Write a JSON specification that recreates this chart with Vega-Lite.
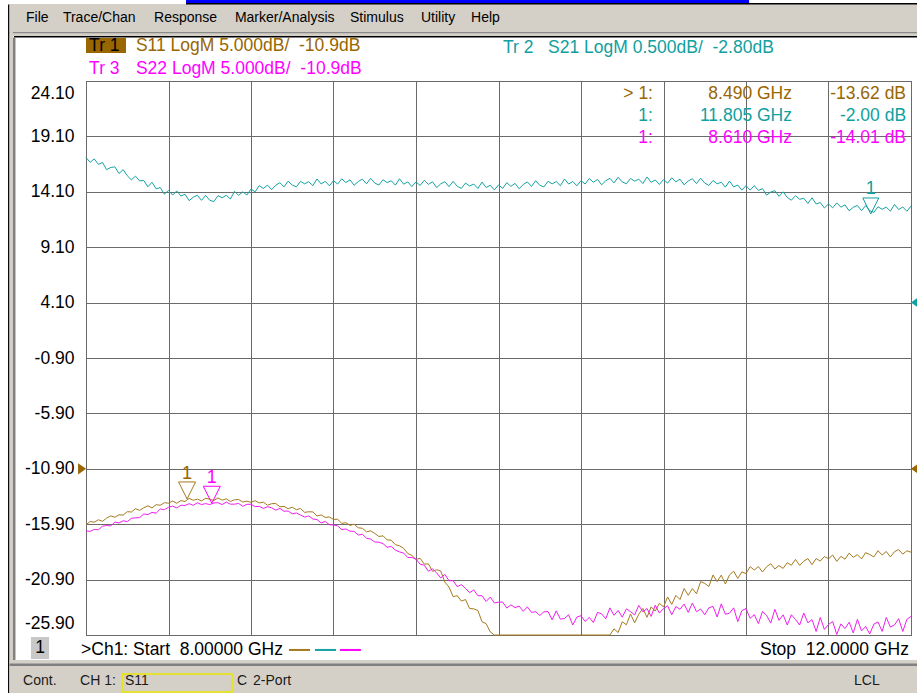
{
"$schema":"https://vega.github.io/schema/vega-lite/v6.json",
"width":825,"height":554,
"autosize":{"type":"none"},
"padding":{"left":86,"top":81,"right":6,"bottom":58},
"background":"#ffffff",
"config":{
"view":{"stroke":"#404040","strokeWidth":1},
"text":{"font":"Liberation Sans"},
"axisX":{"labels":false,"ticks":false,"domain":false,"grid":true,"gridColor":"#6a6a6a","gridWidth":1,"gridOpacity":1},
"axisLeft":{"labelFont":"Liberation Sans","labelFontSize":17.5,"labelColor":"#000000","labelPadding":12,"labelFlush":true,"labelFlushOffset":-3,"ticks":false,"domain":false,"grid":true,"gridColor":"#6a6a6a","gridWidth":1,"gridOpacity":1},
"axisRight":{"labels":false,"ticks":false,"domain":false,"grid":false}
},
"datasets":{
"trace":[
{"f":8.00,"s11":-15.96,"s21":-1.490,"s22":-16.50},
{"f":8.02,"s11":-15.66,"s21":-1.534,"s22":-16.55},
{"f":8.04,"s11":-15.72,"s21":-1.503,"s22":-16.37},
{"f":8.06,"s11":-15.50,"s21":-1.552,"s22":-16.40},
{"f":8.08,"s11":-15.64,"s21":-1.536,"s22":-16.08},
{"f":8.10,"s11":-15.35,"s21":-1.600,"s22":-16.02},
{"f":8.12,"s11":-15.15,"s21":-1.580,"s22":-16.05},
{"f":8.14,"s11":-15.27,"s21":-1.575,"s22":-15.71},
{"f":8.16,"s11":-15.05,"s21":-1.635,"s22":-15.79},
{"f":8.18,"s11":-15.08,"s21":-1.600,"s22":-15.59},
{"f":8.20,"s11":-14.77,"s21":-1.655,"s22":-15.66},
{"f":8.22,"s11":-14.80,"s21":-1.692,"s22":-15.37},
{"f":8.24,"s11":-14.50,"s21":-1.659,"s22":-15.33},
{"f":8.26,"s11":-14.66,"s21":-1.701,"s22":-15.30},
{"f":8.28,"s11":-14.42,"s21":-1.698,"s22":-14.98},
{"f":8.30,"s11":-14.24,"s21":-1.755,"s22":-15.03},
{"f":8.32,"s11":-14.43,"s21":-1.714,"s22":-14.84},
{"f":8.34,"s11":-14.14,"s21":-1.773,"s22":-14.90},
{"f":8.36,"s11":-14.19,"s21":-1.762,"s22":-14.53},
{"f":8.38,"s11":-13.96,"s21":-1.821,"s22":-14.59},
{"f":8.40,"s11":-14.00,"s21":-1.788,"s22":-14.37},
{"f":8.42,"s11":-13.81,"s21":-1.830,"s22":-14.27},
{"f":8.44,"s11":-14.01,"s21":-1.792,"s22":-14.43},
{"f":8.46,"s11":-13.77,"s21":-1.838,"s22":-14.19},
{"f":8.48,"s11":-13.85,"s21":-1.822,"s22":-14.21},
{"f":8.50,"s11":-13.57,"s21":-1.880,"s22":-14.05},
{"f":8.52,"s11":-13.74,"s21":-1.849,"s22":-14.20},
{"f":8.54,"s11":-13.64,"s21":-1.831,"s22":-13.96},
{"f":8.56,"s11":-13.80,"s21":-1.877,"s22":-14.13},
{"f":8.58,"s11":-13.56,"s21":-1.832,"s22":-14.04},
{"f":8.60,"s11":-13.64,"s21":-1.877,"s22":-14.13},
{"f":8.62,"s11":-13.76,"s21":-1.888,"s22":-13.98},
{"f":8.64,"s11":-13.53,"s21":-1.835,"s22":-13.96},
{"f":8.66,"s11":-13.73,"s21":-1.854,"s22":-14.13},
{"f":8.68,"s11":-13.61,"s21":-1.831,"s22":-13.91},
{"f":8.70,"s11":-13.85,"s21":-1.865,"s22":-14.09},
{"f":8.72,"s11":-13.70,"s21":-1.796,"s22":-14.09},
{"f":8.74,"s11":-13.67,"s21":-1.832,"s22":-14.03},
{"f":8.76,"s11":-13.90,"s21":-1.800,"s22":-14.28},
{"f":8.78,"s11":-13.82,"s21":-1.829,"s22":-14.11},
{"f":8.80,"s11":-13.93,"s21":-1.775,"s22":-14.10},
{"f":8.82,"s11":-13.78,"s21":-1.800,"s22":-14.31},
{"f":8.84,"s11":-13.98,"s21":-1.744,"s22":-14.29},
{"f":8.86,"s11":-13.91,"s21":-1.770,"s22":-14.48},
{"f":8.88,"s11":-14.19,"s21":-1.740,"s22":-14.32},
{"f":8.90,"s11":-14.05,"s21":-1.780,"s22":-14.42},
{"f":8.92,"s11":-14.03,"s21":-1.741,"s22":-14.63},
{"f":8.94,"s11":-14.33,"s21":-1.718,"s22":-14.47},
{"f":8.96,"s11":-14.29,"s21":-1.755,"s22":-14.73},
{"f":8.98,"s11":-14.50,"s21":-1.704,"s22":-14.71},
{"f":9.00,"s11":-14.37,"s21":-1.740,"s22":-14.96},
{"f":9.02,"s11":-14.59,"s21":-1.755,"s22":-14.89},
{"f":9.04,"s11":-14.48,"s21":-1.706,"s22":-15.07},
{"f":9.06,"s11":-14.83,"s21":-1.728,"s22":-15.26},
{"f":9.08,"s11":-14.78,"s21":-1.709,"s22":-15.16},
{"f":9.10,"s11":-14.79,"s21":-1.744,"s22":-15.43},
{"f":9.12,"s11":-15.16,"s21":-1.684,"s22":-15.48},
{"f":9.14,"s11":-15.06,"s21":-1.729,"s22":-15.78},
{"f":9.16,"s11":-15.29,"s21":-1.706,"s22":-15.65},
{"f":9.18,"s11":-15.25,"s21":-1.746,"s22":-15.95},
{"f":9.20,"s11":-15.47,"s21":-1.699,"s22":-15.97},
{"f":9.22,"s11":-15.45,"s21":-1.730,"s22":-16.05},
{"f":9.24,"s11":-15.83,"s21":-1.683,"s22":-16.39},
{"f":9.26,"s11":-15.76,"s21":-1.717,"s22":-16.33},
{"f":9.28,"s11":-16.01,"s21":-1.692,"s22":-16.53},
{"f":9.30,"s11":-15.90,"s21":-1.741,"s22":-16.55},
{"f":9.32,"s11":-16.22,"s21":-1.707,"s22":-16.88},
{"f":9.34,"s11":-16.27,"s21":-1.686,"s22":-16.81},
{"f":9.36,"s11":-16.59,"s21":-1.728,"s22":-17.16},
{"f":9.38,"s11":-16.50,"s21":-1.679,"s22":-17.24},
{"f":9.40,"s11":-16.73,"s21":-1.721,"s22":-17.51},
{"f":9.42,"s11":-17.01,"s21":-1.739,"s22":-17.52},
{"f":9.44,"s11":-16.95,"s21":-1.691,"s22":-17.65},
{"f":9.46,"s11":-17.31,"s21":-1.717,"s22":-17.98},
{"f":9.48,"s11":-17.35,"s21":-1.700,"s22":-17.91},
{"f":9.50,"s11":-17.75,"s21":-1.740,"s22":-18.24},
{"f":9.52,"s11":-17.85,"s21":-1.682,"s22":-18.40},
{"f":9.54,"s11":-18.07,"s21":-1.731,"s22":-18.50},
{"f":9.56,"s11":-18.55,"s21":-1.711,"s22":-18.91},
{"f":9.58,"s11":-18.72,"s21":-1.753,"s22":-18.90},
{"f":9.60,"s11":-19.08,"s21":-1.710,"s22":-19.05},
{"f":9.62,"s11":-18.98,"s21":-1.743,"s22":-19.51},
{"f":9.64,"s11":-19.50,"s21":-1.696,"s22":-19.60},
{"f":9.66,"s11":-19.48,"s21":-1.733,"s22":-20.14},
{"f":9.68,"s11":-20.15,"s21":-1.710,"s22":-19.93},
{"f":9.70,"s11":-20.01,"s21":-1.762,"s22":-20.29},
{"f":9.72,"s11":-20.13,"s21":-1.728,"s22":-20.75},
{"f":9.74,"s11":-21.13,"s21":-1.709,"s22":-20.43},
{"f":9.76,"s11":-21.57,"s21":-1.754,"s22":-21.01},
{"f":9.78,"s11":-22.44,"s21":-1.706,"s22":-20.99},
{"f":9.80,"s11":-22.35,"s21":-1.751,"s22":-21.54},
{"f":9.82,"s11":-22.84,"s21":-1.769,"s22":-21.35},
{"f":9.84,"s11":-22.70,"s21":-1.721,"s22":-21.70},
{"f":9.86,"s11":-23.51,"s21":-1.747,"s22":-22.08},
{"f":9.88,"s11":-23.54,"s21":-1.730,"s22":-21.83},
{"f":9.90,"s11":-23.69,"s21":-1.770,"s22":-22.36},
{"f":9.92,"s11":-24.70,"s21":-1.712,"s22":-22.35},
{"f":9.94,"s11":-24.88,"s21":-1.761,"s22":-22.88},
{"f":9.96,"s11":-25.62,"s21":-1.741,"s22":-22.48},
{"f":9.98,"s11":-25.90,"s21":-1.783,"s22":-23.01},
{"f":10.00,"s11":-25.90,"s21":-1.738,"s22":-22.94},
{"f":10.02,"s11":-25.90,"s21":-1.769,"s22":-22.92},
{"f":10.04,"s11":-25.90,"s21":-1.718,"s22":-23.47},
{"f":10.06,"s11":-25.90,"s21":-1.751,"s22":-23.18},
{"f":10.08,"s11":-25.90,"s21":-1.724,"s22":-23.43},
{"f":10.10,"s11":-25.90,"s21":-1.772,"s22":-23.29},
{"f":10.12,"s11":-25.90,"s21":-1.734,"s22":-23.76},
{"f":10.14,"s11":-25.90,"s21":-1.711,"s22":-23.36},
{"f":10.16,"s11":-25.90,"s21":-1.752,"s22":-23.86},
{"f":10.18,"s11":-25.90,"s21":-1.700,"s22":-23.79},
{"f":10.20,"s11":-25.90,"s21":-1.741,"s22":-24.14},
{"f":10.22,"s11":-25.90,"s21":-1.756,"s22":-23.81},
{"f":10.24,"s11":-25.90,"s21":-1.705,"s22":-23.78},
{"f":10.26,"s11":-25.90,"s21":-1.728,"s22":-24.53},
{"f":10.28,"s11":-25.90,"s21":-1.708,"s22":-23.72},
{"f":10.30,"s11":-25.90,"s21":-1.745,"s22":-24.47},
{"f":10.32,"s11":-25.90,"s21":-1.684,"s22":-24.41},
{"f":10.34,"s11":-25.90,"s21":-1.730,"s22":-24.07},
{"f":10.36,"s11":-25.90,"s21":-1.707,"s22":-25.00},
{"f":10.38,"s11":-25.90,"s21":-1.746,"s22":-24.28},
{"f":10.40,"s11":-25.90,"s21":-1.699,"s22":-24.16},
{"f":10.42,"s11":-25.90,"s21":-1.730,"s22":-24.68},
{"f":10.44,"s11":-25.90,"s21":-1.680,"s22":-24.31},
{"f":10.46,"s11":-25.90,"s21":-1.714,"s22":-24.78},
{"f":10.48,"s11":-25.90,"s21":-1.688,"s22":-23.86},
{"f":10.50,"s11":-25.90,"s21":-1.737,"s22":-23.99},
{"f":10.52,"s11":-25.90,"s21":-1.700,"s22":-24.44},
{"f":10.54,"s11":-25.90,"s21":-1.678,"s22":-23.45},
{"f":10.56,"s11":-25.34,"s21":-1.720,"s22":-24.12},
{"f":10.58,"s11":-25.68,"s21":-1.669,"s22":-23.68},
{"f":10.60,"s11":-24.70,"s21":-1.711,"s22":-24.29},
{"f":10.62,"s11":-24.98,"s21":-1.728,"s22":-23.54},
{"f":10.64,"s11":-24.00,"s21":-1.679,"s22":-23.79},
{"f":10.66,"s11":-24.80,"s21":-1.704,"s22":-24.09},
{"f":10.68,"s11":-24.03,"s21":-1.686,"s22":-23.23},
{"f":10.70,"s11":-23.50,"s21":-1.725,"s22":-23.81},
{"f":10.72,"s11":-24.30,"s21":-1.666,"s22":-23.51},
{"f":10.74,"s11":-23.36,"s21":-1.714,"s22":-24.22},
{"f":10.76,"s11":-23.74,"s21":-1.693,"s22":-23.21},
{"f":10.78,"s11":-23.04,"s21":-1.734,"s22":-23.92},
{"f":10.80,"s11":-23.36,"s21":-1.689,"s22":-23.51},
{"f":10.82,"s11":-22.47,"s21":-1.722,"s22":-23.27},
{"f":10.84,"s11":-23.14,"s21":-1.674,"s22":-24.07},
{"f":10.86,"s11":-22.32,"s21":-1.710,"s22":-23.33},
{"f":10.88,"s11":-22.70,"s21":-1.686,"s22":-23.58},
{"f":10.90,"s11":-21.70,"s21":-1.737,"s22":-23.11},
{"f":10.92,"s11":-22.32,"s21":-1.702,"s22":-23.86},
{"f":10.94,"s11":-21.71,"s21":-1.682,"s22":-23.01},
{"f":10.96,"s11":-22.18,"s21":-1.726,"s22":-23.80},
{"f":10.98,"s11":-21.08,"s21":-1.677,"s22":-23.55},
{"f":11.00,"s11":-21.24,"s21":-1.721,"s22":-24.08},
{"f":11.02,"s11":-21.52,"s21":-1.743,"s22":-23.44},
{"f":11.04,"s11":-20.48,"s21":-1.698,"s22":-23.32},
{"f":11.06,"s11":-21.08,"s21":-1.728,"s22":-24.27},
{"f":11.08,"s11":-20.50,"s21":-1.714,"s22":-23.09},
{"f":11.10,"s11":-21.30,"s21":-1.758,"s22":-24.03},
{"f":11.12,"s11":-20.48,"s21":-1.703,"s22":-23.93},
{"f":11.14,"s11":-20.14,"s21":-1.756,"s22":-23.45},
{"f":11.16,"s11":-20.79,"s21":-1.739,"s22":-24.70},
{"f":11.18,"s11":-20.21,"s21":-1.785,"s22":-23.70},
{"f":11.20,"s11":-20.35,"s21":-1.744,"s22":-23.52},
{"f":11.22,"s11":-19.73,"s21":-1.785,"s22":-24.40},
{"f":11.24,"s11":-20.04,"s21":-1.744,"s22":-24.06},
{"f":11.26,"s11":-19.72,"s21":-1.788,"s22":-24.87},
{"f":11.28,"s11":-20.21,"s21":-1.771,"s22":-23.78},
{"f":11.30,"s11":-19.74,"s21":-1.830,"s22":-24.13},
{"f":11.32,"s11":-19.47,"s21":-1.802,"s22":-24.83},
{"f":11.34,"s11":-19.94,"s21":-1.790,"s22":-23.58},
{"f":11.36,"s11":-19.63,"s21":-1.841,"s22":-24.58},
{"f":11.38,"s11":-19.89,"s21":-1.800,"s22":-24.08},
{"f":11.40,"s11":-19.37,"s21":-1.851,"s22":-25.00},
{"f":11.42,"s11":-19.60,"s21":-1.876,"s22":-24.07},
{"f":11.44,"s11":-19.08,"s21":-1.835,"s22":-24.50},
{"f":11.46,"s11":-19.62,"s21":-1.868,"s22":-25.00},
{"f":11.48,"s11":-19.24,"s21":-1.858,"s22":-23.92},
{"f":11.50,"s11":-19.00,"s21":-1.905,"s22":-24.80},
{"f":11.52,"s11":-19.55,"s21":-1.854,"s22":-24.51},
{"f":11.54,"s11":-19.00,"s21":-1.910,"s22":-25.58},
{"f":11.56,"s11":-19.23,"s21":-1.897,"s22":-24.32},
{"f":11.58,"s11":-18.82,"s21":-1.946,"s22":-25.39},
{"f":11.60,"s11":-19.02,"s21":-1.909,"s22":-24.95},
{"f":11.62,"s11":-18.68,"s21":-1.945,"s22":-24.68},
{"f":11.64,"s11":-19.25,"s21":-1.900,"s22":-25.85},
{"f":11.66,"s11":-18.80,"s21":-1.939,"s22":-24.90},
{"f":11.68,"s11":-19.06,"s21":-1.918,"s22":-25.32},
{"f":11.70,"s11":-18.51,"s21":-1.972,"s22":-24.74},
{"f":11.72,"s11":-18.89,"s21":-1.940,"s22":-25.71},
{"f":11.74,"s11":-18.65,"s21":-1.923,"s22":-24.49},
{"f":11.76,"s11":-19.03,"s21":-1.970,"s22":-25.53},
{"f":11.78,"s11":-18.47,"s21":-1.924,"s22":-25.13},
{"f":11.80,"s11":-18.64,"s21":-1.971,"s22":-25.80},
{"f":11.82,"s11":-18.85,"s21":-1.986,"s22":-24.92},
{"f":11.84,"s11":-18.29,"s21":-1.935,"s22":-24.72},
{"f":11.86,"s11":-18.68,"s21":-1.958,"s22":-25.58},
{"f":11.88,"s11":-18.36,"s21":-1.938,"s22":-24.32},
{"f":11.90,"s11":-18.85,"s21":-1.975,"s22":-25.18},
{"f":11.92,"s11":-18.38,"s21":-1.914,"s22":-24.99},
{"f":11.94,"s11":-18.19,"s21":-1.960,"s22":-24.42},
{"f":11.96,"s11":-18.60,"s21":-1.937,"s22":-25.58},
{"f":11.98,"s11":-18.30,"s21":-1.976,"s22":-24.49},
{"f":12.00,"s11":-18.43,"s21":-1.929,"s22":-24.22}
],
"markers":[
{"trace":"S11","f":8.49,"v":-13.62},
{"trace":"S22","f":8.61,"v":-14.01},
{"trace":"S21","f":11.805,"v":-2.00}
]
},
"resolve":{"scale":{"y":"independent"}},
"layer":[
{"layer":[
{"data":{"name":"trace"},"mark":{"type":"line","color":"#a57a1e","strokeWidth":1},"encoding":{"x":{"field":"f","type":"quantitative","scale":{"domain":[8,12],"nice":false,"zero":false},"axis":{"title":null,"values":[8,8.4,8.8,9.2,9.6,10,10.4,10.8,11.2,11.6,12]}},"y":{"field":"s11","type":"quantitative","scale":{"domain":[-25.9,24.1],"nice":false,"zero":false},"axis":{"title":null,"values":[-25.9,-20.9,-15.9,-10.9,-5.9,-0.9,4.1,9.1,14.1,19.1,24.1],"labelExpr":"replace(format(datum.value,'.2f'),'\u2212','-')"}}}},
{"data":{"values":[{}]},"mark":{"type":"rect","fill":"#d4d0c8"},"encoding":{"x":{"datum":7.629,"type":"quantitative","scale":{"domain":[8,12],"nice":false,"zero":false},"axis":{"title":null}},"x2":{"datum":12.03},"y":{"datum":31.05,"type":"quantitative","scale":{"domain":[-25.9,24.1],"nice":false,"zero":false},"axis":{"title":null}},"y2":{"datum":28.16}}},
{"data":{"values":[{}]},"mark":{"type":"rect","fill":"#8a8a8a"},"encoding":{"x":{"datum":7.629,"type":"quantitative","scale":{"domain":[8,12],"nice":false,"zero":false},"axis":{"title":null}},"x2":{"datum":12.03},"y":{"datum":28.52,"type":"quantitative","scale":{"domain":[-25.9,24.1],"nice":false,"zero":false},"axis":{"title":null}},"y2":{"datum":28.41}}},
{"data":{"values":[{}]},"mark":{"type":"rect","fill":"#000000"},"encoding":{"x":{"datum":7.651,"type":"quantitative","scale":{"domain":[8,12],"nice":false,"zero":false},"axis":{"title":null}},"x2":{"datum":12.03},"y":{"datum":28.16,"type":"quantitative","scale":{"domain":[-25.9,24.1],"nice":false,"zero":false},"axis":{"title":null}},"y2":{"datum":28.03}}},
{"data":{"values":[{}]},"mark":{"type":"rect","fill":"#0000ff"},"encoding":{"x":{"datum":8.485,"type":"quantitative","scale":{"domain":[8,12],"nice":false,"zero":false},"axis":{"title":null}},"x2":{"datum":11.215},"y":{"datum":31.45,"type":"quantitative","scale":{"domain":[-25.9,24.1],"nice":false,"zero":false},"axis":{"title":null}},"y2":{"datum":31.14}}},
{"data":{"values":[{}]},"mark":{"type":"rect","fill":"#000000"},"encoding":{"x":{"datum":8.485,"type":"quantitative","scale":{"domain":[8,12],"nice":false,"zero":false},"axis":{"title":null}},"x2":{"datum":12.03},"y":{"datum":31.14,"type":"quantitative","scale":{"domain":[-25.9,24.1],"nice":false,"zero":false},"axis":{"title":null}},"y2":{"datum":31.0}}},
{"data":{"values":[{}]},"mark":{"type":"rect","fill":"#000000"},"encoding":{"x":{"datum":7.622,"type":"quantitative","scale":{"domain":[8,12],"nice":false,"zero":false},"axis":{"title":null}},"x2":{"datum":7.629},"y":{"datum":31.0,"type":"quantitative","scale":{"domain":[-25.9,24.1],"nice":false,"zero":false},"axis":{"title":null}},"y2":{"datum":-31.2}}},
{"data":{"values":[{}]},"mark":{"type":"rect","fill":"#d4d0c8"},"encoding":{"x":{"datum":7.629,"type":"quantitative","scale":{"domain":[8,12],"nice":false,"zero":false},"axis":{"title":null}},"x2":{"datum":7.646},"y":{"datum":31.0,"type":"quantitative","scale":{"domain":[-25.9,24.1],"nice":false,"zero":false},"axis":{"title":null}},"y2":{"datum":-31.2}}},
{"data":{"values":[{}]},"mark":{"type":"rect","fill":"#808080"},"encoding":{"x":{"datum":7.646,"type":"quantitative","scale":{"domain":[8,12],"nice":false,"zero":false},"axis":{"title":null}},"x2":{"datum":7.658},"y":{"datum":28.03,"type":"quantitative","scale":{"domain":[-25.9,24.1],"nice":false,"zero":false},"axis":{"title":null}},"y2":{"datum":-28.16}}},
{"data":{"values":[{}]},"mark":{"type":"rect","fill":"#d4d0c8"},"encoding":{"x":{"datum":7.629,"type":"quantitative","scale":{"domain":[8,12],"nice":false,"zero":false},"axis":{"title":null}},"x2":{"datum":12.03},"y":{"datum":-28.16,"type":"quantitative","scale":{"domain":[-25.9,24.1],"nice":false,"zero":false},"axis":{"title":null}},"y2":{"datum":-31.2}}},
{"data":{"values":[{}]},"mark":{"type":"rect","fill":"#808080"},"encoding":{"x":{"datum":7.629,"type":"quantitative","scale":{"domain":[8,12],"nice":false,"zero":false},"axis":{"title":null}},"x2":{"datum":12.03},"y":{"datum":-28.47,"type":"quantitative","scale":{"domain":[-25.9,24.1],"nice":false,"zero":false},"axis":{"title":null}},"y2":{"datum":-28.70}}},
{"data":{"values":[{}]},"mark":{"type":"rect","fillOpacity":0,"stroke":"#e8e800","strokeWidth":1.5},"encoding":{"x":{"datum":8.175,"type":"quantitative","scale":{"domain":[8,12],"nice":false,"zero":false},"axis":{"title":null}},"x2":{"datum":8.708},"y":{"datum":-29.42,"type":"quantitative","scale":{"domain":[-25.9,24.1],"nice":false,"zero":false},"axis":{"title":null}},"y2":{"datum":-31.04}}},
{"data":{"values":[{}]},"mark":{"type":"rect","fill":"#c8c8c8"},"encoding":{"x":{"datum":7.733,"type":"quantitative","scale":{"domain":[8,12],"nice":false,"zero":false},"axis":{"title":null}},"x2":{"datum":7.821},"y":{"datum":-26.08,"type":"quantitative","scale":{"domain":[-25.9,24.1],"nice":false,"zero":false},"axis":{"title":null}},"y2":{"datum":-28.07}}},
{"data":{"values":[{}]},"mark":{"type":"rect","fill":"#996600"},"encoding":{"x":{"datum":8.0,"type":"quantitative","scale":{"domain":[8,12],"nice":false,"zero":false},"axis":{"title":null}},"x2":{"datum":8.194},"y":{"datum":27.98,"type":"quantitative","scale":{"domain":[-25.9,24.1],"nice":false,"zero":false},"axis":{"title":null}},"y2":{"datum":26.63}}},
{"data":{"values":[{}]},"mark":{"type":"text","text":"File","align":"left","baseline":"middle","fontSize":14,"color":"#000000"},"encoding":{"x":{"datum":7.709,"type":"quantitative","scale":{"domain":[8,12],"nice":false,"zero":false},"axis":{"title":null}},"y":{"datum":29.83,"type":"quantitative","scale":{"domain":[-25.9,24.1],"nice":false,"zero":false},"axis":{"title":null}}}},
{"data":{"values":[{}]},"mark":{"type":"text","text":"Trace/Chan","align":"left","baseline":"middle","fontSize":14,"color":"#000000"},"encoding":{"x":{"datum":7.888,"type":"quantitative","scale":{"domain":[8,12],"nice":false,"zero":false},"axis":{"title":null}},"y":{"datum":29.83,"type":"quantitative","scale":{"domain":[-25.9,24.1],"nice":false,"zero":false},"axis":{"title":null}}}},
{"data":{"values":[{}]},"mark":{"type":"text","text":"Response","align":"left","baseline":"middle","fontSize":14,"color":"#000000"},"encoding":{"x":{"datum":8.330,"type":"quantitative","scale":{"domain":[8,12],"nice":false,"zero":false},"axis":{"title":null}},"y":{"datum":29.83,"type":"quantitative","scale":{"domain":[-25.9,24.1],"nice":false,"zero":false},"axis":{"title":null}}}},
{"data":{"values":[{}]},"mark":{"type":"text","text":"Marker/Analysis","align":"left","baseline":"middle","fontSize":14,"color":"#000000"},"encoding":{"x":{"datum":8.722,"type":"quantitative","scale":{"domain":[8,12],"nice":false,"zero":false},"axis":{"title":null}},"y":{"datum":29.83,"type":"quantitative","scale":{"domain":[-25.9,24.1],"nice":false,"zero":false},"axis":{"title":null}}}},
{"data":{"values":[{}]},"mark":{"type":"text","text":"Stimulus","align":"left","baseline":"middle","fontSize":14,"color":"#000000"},"encoding":{"x":{"datum":9.280,"type":"quantitative","scale":{"domain":[8,12],"nice":false,"zero":false},"axis":{"title":null}},"y":{"datum":29.83,"type":"quantitative","scale":{"domain":[-25.9,24.1],"nice":false,"zero":false},"axis":{"title":null}}}},
{"data":{"values":[{}]},"mark":{"type":"text","text":"Utility","align":"left","baseline":"middle","fontSize":14,"color":"#000000"},"encoding":{"x":{"datum":9.624,"type":"quantitative","scale":{"domain":[8,12],"nice":false,"zero":false},"axis":{"title":null}},"y":{"datum":29.83,"type":"quantitative","scale":{"domain":[-25.9,24.1],"nice":false,"zero":false},"axis":{"title":null}}}},
{"data":{"values":[{}]},"mark":{"type":"text","text":"Help","align":"left","baseline":"middle","fontSize":14,"color":"#000000"},"encoding":{"x":{"datum":9.867,"type":"quantitative","scale":{"domain":[8,12],"nice":false,"zero":false},"axis":{"title":null}},"y":{"datum":29.83,"type":"quantitative","scale":{"domain":[-25.9,24.1],"nice":false,"zero":false},"axis":{"title":null}}}},
{"data":{"values":[{}]},"mark":{"type":"text","text":"Tr 1","align":"left","baseline":"middle","fontSize":17.5,"color":"#000000"},"encoding":{"x":{"datum":8.015,"type":"quantitative","scale":{"domain":[8,12],"nice":false,"zero":false},"axis":{"title":null}},"y":{"datum":27.30,"type":"quantitative","scale":{"domain":[-25.9,24.1],"nice":false,"zero":false},"axis":{"title":null}}}},
{"data":{"values":[{}]},"mark":{"type":"text","text":"S11 LogM 5.000dB/\u00a0\u00a0-10.9dB","align":"left","baseline":"middle","fontSize":17.5,"color":"#996600"},"encoding":{"x":{"datum":8.242,"type":"quantitative","scale":{"domain":[8,12],"nice":false,"zero":false},"axis":{"title":null}},"y":{"datum":27.30,"type":"quantitative","scale":{"domain":[-25.9,24.1],"nice":false,"zero":false},"axis":{"title":null}}}},
{"data":{"values":[{}]},"mark":{"type":"text","text":"Tr 3","align":"left","baseline":"middle","fontSize":17.5,"color":"#ff00ff"},"encoding":{"x":{"datum":8.015,"type":"quantitative","scale":{"domain":[8,12],"nice":false,"zero":false},"axis":{"title":null}},"y":{"datum":25.18,"type":"quantitative","scale":{"domain":[-25.9,24.1],"nice":false,"zero":false},"axis":{"title":null}}}},
{"data":{"values":[{}]},"mark":{"type":"text","text":"S22 LogM 5.000dB/\u00a0\u00a0-10.9dB","align":"left","baseline":"middle","fontSize":17.5,"color":"#ff00ff"},"encoding":{"x":{"datum":8.242,"type":"quantitative","scale":{"domain":[8,12],"nice":false,"zero":false},"axis":{"title":null}},"y":{"datum":25.18,"type":"quantitative","scale":{"domain":[-25.9,24.1],"nice":false,"zero":false},"axis":{"title":null}}}},
{"data":{"values":[{}]},"mark":{"type":"text","text":"Tr 2\u00a0\u00a0\u00a0S21 LogM 0.500dB/\u00a0\u00a0-2.80dB","align":"left","baseline":"middle","fontSize":17.5,"color":"#10a0a0"},"encoding":{"x":{"datum":10.022,"type":"quantitative","scale":{"domain":[8,12],"nice":false,"zero":false},"axis":{"title":null}},"y":{"datum":27.08,"type":"quantitative","scale":{"domain":[-25.9,24.1],"nice":false,"zero":false},"axis":{"title":null}}}},
{"data":{"values":[{}]},"mark":{"type":"text","text":"> 1:","align":"right","baseline":"middle","fontSize":17.5,"color":"#996600"},"encoding":{"x":{"datum":10.749,"type":"quantitative","scale":{"domain":[8,12],"nice":false,"zero":false},"axis":{"title":null}},"y":{"datum":22.93,"type":"quantitative","scale":{"domain":[-25.9,24.1],"nice":false,"zero":false},"axis":{"title":null}}}},
{"data":{"values":[{}]},"mark":{"type":"text","text":"8.490 GHz","align":"right","baseline":"middle","fontSize":17.5,"color":"#996600"},"encoding":{"x":{"datum":11.423,"type":"quantitative","scale":{"domain":[8,12],"nice":false,"zero":false},"axis":{"title":null}},"y":{"datum":22.93,"type":"quantitative","scale":{"domain":[-25.9,24.1],"nice":false,"zero":false},"axis":{"title":null}}}},
{"data":{"values":[{}]},"mark":{"type":"text","text":"-13.62 dB","align":"right","baseline":"middle","fontSize":17.5,"color":"#996600"},"encoding":{"x":{"datum":11.976,"type":"quantitative","scale":{"domain":[8,12],"nice":false,"zero":false},"axis":{"title":null}},"y":{"datum":22.93,"type":"quantitative","scale":{"domain":[-25.9,24.1],"nice":false,"zero":false},"axis":{"title":null}}}},
{"data":{"values":[{}]},"mark":{"type":"text","text":"1:","align":"right","baseline":"middle","fontSize":17.5,"color":"#10a0a0"},"encoding":{"x":{"datum":10.749,"type":"quantitative","scale":{"domain":[8,12],"nice":false,"zero":false},"axis":{"title":null}},"y":{"datum":20.94,"type":"quantitative","scale":{"domain":[-25.9,24.1],"nice":false,"zero":false},"axis":{"title":null}}}},
{"data":{"values":[{}]},"mark":{"type":"text","text":"11.805 GHz","align":"right","baseline":"middle","fontSize":17.5,"color":"#10a0a0"},"encoding":{"x":{"datum":11.423,"type":"quantitative","scale":{"domain":[8,12],"nice":false,"zero":false},"axis":{"title":null}},"y":{"datum":20.94,"type":"quantitative","scale":{"domain":[-25.9,24.1],"nice":false,"zero":false},"axis":{"title":null}}}},
{"data":{"values":[{}]},"mark":{"type":"text","text":"-2.00 dB","align":"right","baseline":"middle","fontSize":17.5,"color":"#10a0a0"},"encoding":{"x":{"datum":11.976,"type":"quantitative","scale":{"domain":[8,12],"nice":false,"zero":false},"axis":{"title":null}},"y":{"datum":20.94,"type":"quantitative","scale":{"domain":[-25.9,24.1],"nice":false,"zero":false},"axis":{"title":null}}}},
{"data":{"values":[{}]},"mark":{"type":"text","text":"1:","align":"right","baseline":"middle","fontSize":17.5,"color":"#ff00ff"},"encoding":{"x":{"datum":10.749,"type":"quantitative","scale":{"domain":[8,12],"nice":false,"zero":false},"axis":{"title":null}},"y":{"datum":18.96,"type":"quantitative","scale":{"domain":[-25.9,24.1],"nice":false,"zero":false},"axis":{"title":null}}}},
{"data":{"values":[{}]},"mark":{"type":"text","text":"8.610 GHz","align":"right","baseline":"middle","fontSize":17.5,"color":"#ff00ff"},"encoding":{"x":{"datum":11.423,"type":"quantitative","scale":{"domain":[8,12],"nice":false,"zero":false},"axis":{"title":null}},"y":{"datum":18.96,"type":"quantitative","scale":{"domain":[-25.9,24.1],"nice":false,"zero":false},"axis":{"title":null}}}},
{"data":{"values":[{}]},"mark":{"type":"text","text":"-14.01 dB","align":"right","baseline":"middle","fontSize":17.5,"color":"#ff00ff"},"encoding":{"x":{"datum":11.976,"type":"quantitative","scale":{"domain":[8,12],"nice":false,"zero":false},"axis":{"title":null}},"y":{"datum":18.96,"type":"quantitative","scale":{"domain":[-25.9,24.1],"nice":false,"zero":false},"axis":{"title":null}}}},
{"data":{"values":[{}]},"mark":{"type":"text","text":"1","align":"center","baseline":"middle","fontSize":17.5,"color":"#000000"},"encoding":{"x":{"datum":7.777,"type":"quantitative","scale":{"domain":[8,12],"nice":false,"zero":false},"axis":{"title":null}},"y":{"datum":-27.07,"type":"quantitative","scale":{"domain":[-25.9,24.1],"nice":false,"zero":false},"axis":{"title":null}}}},
{"data":{"values":[{}]},"mark":{"type":"text","text":">Ch1: Start\u00a0\u00a08.00000 GHz","align":"left","baseline":"middle","fontSize":17.5,"color":"#000000"},"encoding":{"x":{"datum":7.976,"type":"quantitative","scale":{"domain":[8,12],"nice":false,"zero":false},"axis":{"title":null}},"y":{"datum":-27.25,"type":"quantitative","scale":{"domain":[-25.9,24.1],"nice":false,"zero":false},"axis":{"title":null}}}},
{"data":{"values":[{}]},"mark":{"type":"text","text":"Stop\u00a0\u00a012.0000 GHz","align":"right","baseline":"middle","fontSize":17.5,"color":"#000000"},"encoding":{"x":{"datum":11.990,"type":"quantitative","scale":{"domain":[8,12],"nice":false,"zero":false},"axis":{"title":null}},"y":{"datum":-27.25,"type":"quantitative","scale":{"domain":[-25.9,24.1],"nice":false,"zero":false},"axis":{"title":null}}}},
{"data":{"values":[{}]},"mark":{"type":"rule","color":"#a57a1e","strokeWidth":2},"encoding":{"x":{"datum":8.984,"type":"quantitative","scale":{"domain":[8,12],"nice":false,"zero":false},"axis":{"title":null}},"x2":{"datum":9.086},"y":{"datum":-27.25,"type":"quantitative","scale":{"domain":[-25.9,24.1],"nice":false,"zero":false},"axis":{"title":null}}}},
{"data":{"values":[{}]},"mark":{"type":"rule","color":"#16a2a2","strokeWidth":2},"encoding":{"x":{"datum":9.110,"type":"quantitative","scale":{"domain":[8,12],"nice":false,"zero":false},"axis":{"title":null}},"x2":{"datum":9.212},"y":{"datum":-27.25,"type":"quantitative","scale":{"domain":[-25.9,24.1],"nice":false,"zero":false},"axis":{"title":null}}}},
{"data":{"values":[{}]},"mark":{"type":"rule","color":"#ff00ff","strokeWidth":2},"encoding":{"x":{"datum":9.232,"type":"quantitative","scale":{"domain":[8,12],"nice":false,"zero":false},"axis":{"title":null}},"x2":{"datum":9.333},"y":{"datum":-27.25,"type":"quantitative","scale":{"domain":[-25.9,24.1],"nice":false,"zero":false},"axis":{"title":null}}}},
{"data":{"values":[{}]},"mark":{"type":"text","text":"Cont.","align":"left","baseline":"middle","fontSize":14,"color":"#1a1a1a"},"encoding":{"x":{"datum":7.695,"type":"quantitative","scale":{"domain":[8,12],"nice":false,"zero":false},"axis":{"title":null}},"y":{"datum":-30.01,"type":"quantitative","scale":{"domain":[-25.9,24.1],"nice":false,"zero":false},"axis":{"title":null}}}},
{"data":{"values":[{}]},"mark":{"type":"text","text":"CH 1:","align":"left","baseline":"middle","fontSize":14,"color":"#1a1a1a"},"encoding":{"x":{"datum":7.971,"type":"quantitative","scale":{"domain":[8,12],"nice":false,"zero":false},"axis":{"title":null}},"y":{"datum":-30.01,"type":"quantitative","scale":{"domain":[-25.9,24.1],"nice":false,"zero":false},"axis":{"title":null}}}},
{"data":{"values":[{}]},"mark":{"type":"text","text":"S11","align":"left","baseline":"middle","fontSize":14,"color":"#1a1a1a"},"encoding":{"x":{"datum":8.189,"type":"quantitative","scale":{"domain":[8,12],"nice":false,"zero":false},"axis":{"title":null}},"y":{"datum":-30.01,"type":"quantitative","scale":{"domain":[-25.9,24.1],"nice":false,"zero":false},"axis":{"title":null}}}},
{"data":{"values":[{}]},"mark":{"type":"text","text":"C","align":"left","baseline":"middle","fontSize":14,"color":"#1a1a1a"},"encoding":{"x":{"datum":8.732,"type":"quantitative","scale":{"domain":[8,12],"nice":false,"zero":false},"axis":{"title":null}},"y":{"datum":-30.01,"type":"quantitative","scale":{"domain":[-25.9,24.1],"nice":false,"zero":false},"axis":{"title":null}}}},
{"data":{"values":[{}]},"mark":{"type":"text","text":"2-Port","align":"left","baseline":"middle","fontSize":14,"color":"#1a1a1a"},"encoding":{"x":{"datum":8.810,"type":"quantitative","scale":{"domain":[8,12],"nice":false,"zero":false},"axis":{"title":null}},"y":{"datum":-30.01,"type":"quantitative","scale":{"domain":[-25.9,24.1],"nice":false,"zero":false},"axis":{"title":null}}}},
{"data":{"values":[{}]},"mark":{"type":"text","text":"LCL","align":"left","baseline":"middle","fontSize":14,"color":"#1a1a1a"},"encoding":{"x":{"datum":11.724,"type":"quantitative","scale":{"domain":[8,12],"nice":false,"zero":false},"axis":{"title":null}},"y":{"datum":-30.01,"type":"quantitative","scale":{"domain":[-25.9,24.1],"nice":false,"zero":false},"axis":{"title":null}}}},
{"data":{"values":[{}]},"mark":{"type":"point","shape":"M-1,-1.4L1,0L-1,1.4Z","size":64,"filled":true,"color":"#996600","opacity":1},"encoding":{"x":{"datum":7.981,"type":"quantitative","scale":{"domain":[8,12],"nice":false,"zero":false},"axis":{"title":null}},"y":{"datum":-10.9,"type":"quantitative","scale":{"domain":[-25.9,24.1],"nice":false,"zero":false},"axis":{"title":null}}}},
{"data":{"values":[{}]},"mark":{"type":"point","shape":"M1,-1.4L-1,0L1,1.4Z","size":64,"filled":true,"color":"#996600","opacity":1},"encoding":{"x":{"datum":12.019,"type":"quantitative","scale":{"domain":[8,12],"nice":false,"zero":false},"axis":{"title":null}},"y":{"datum":-10.9,"type":"quantitative","scale":{"domain":[-25.9,24.1],"nice":false,"zero":false},"axis":{"title":null}}}},
{"data":{"name":"trace"},"mark":{"type":"line","color":"#f01ef0","strokeWidth":1},"encoding":{"x":{"field":"f","type":"quantitative","scale":{"domain":[8,12],"nice":false,"zero":false},"axis":{"title":null}},"y":{"field":"s22","type":"quantitative","scale":{"domain":[-25.9,24.1],"nice":false,"zero":false},"axis":{"title":null}}}},
{"data":{"name":"markers"},"transform":[{"filter":"datum.trace === 'S11'"}],"mark":{"type":"point","shape":"M-1,-2L1,-2L0,0Z","size":289,"filled":false,"stroke":"#a57a1e","strokeWidth":1,"opacity":1},"encoding":{"x":{"field":"f","type":"quantitative","scale":{"domain":[8,12],"nice":false,"zero":false},"axis":{"title":null}},"y":{"field":"v","type":"quantitative","scale":{"domain":[-25.9,24.1],"nice":false,"zero":false},"axis":{"title":null}}}},
{"data":{"name":"markers"},"transform":[{"filter":"datum.trace === 'S11'"}],"mark":{"type":"text","text":"1","dy":-25,"align":"center","baseline":"middle","fontSize":18,"color":"#996600"},"encoding":{"x":{"field":"f","type":"quantitative","scale":{"domain":[8,12],"nice":false,"zero":false},"axis":{"title":null}},"y":{"field":"v","type":"quantitative","scale":{"domain":[-25.9,24.1],"nice":false,"zero":false},"axis":{"title":null}}}},
{"data":{"name":"markers"},"transform":[{"filter":"datum.trace === 'S22'"}],"mark":{"type":"point","shape":"M-1,-2L1,-2L0,0Z","size":289,"filled":false,"stroke":"#ff00ff","strokeWidth":1,"opacity":1},"encoding":{"x":{"field":"f","type":"quantitative","scale":{"domain":[8,12],"nice":false,"zero":false},"axis":{"title":null}},"y":{"field":"v","type":"quantitative","scale":{"domain":[-25.9,24.1],"nice":false,"zero":false},"axis":{"title":null}}}},
{"data":{"name":"markers"},"transform":[{"filter":"datum.trace === 'S22'"}],"mark":{"type":"text","text":"1","dy":-25,"align":"center","baseline":"middle","fontSize":18,"color":"#ff00ff"},"encoding":{"x":{"field":"f","type":"quantitative","scale":{"domain":[8,12],"nice":false,"zero":false},"axis":{"title":null}},"y":{"field":"v","type":"quantitative","scale":{"domain":[-25.9,24.1],"nice":false,"zero":false},"axis":{"title":null}}}}
]},
{"layer":[
{"data":{"name":"trace"},"mark":{"type":"line","color":"#16a2a2","strokeWidth":1},"encoding":{"x":{"field":"f","type":"quantitative","scale":{"domain":[8,12],"nice":false,"zero":false},"axis":{"title":null}},"y":{"field":"s21","type":"quantitative","scale":{"domain":[-5.8,-0.8],"nice":false,"zero":false},"axis":{"title":null}}}},
{"data":{"name":"markers"},"transform":[{"filter":"datum.trace === 'S21'"}],"mark":{"type":"point","shape":"M-1,-2L1,-2L0,0Z","size":256,"filled":false,"stroke":"#10a0a0","strokeWidth":1,"opacity":1},"encoding":{"x":{"field":"f","type":"quantitative","scale":{"domain":[8,12],"nice":false,"zero":false},"axis":{"title":null}},"y":{"field":"v","type":"quantitative","scale":{"domain":[-5.8,-0.8],"nice":false,"zero":false},"axis":{"title":null}}}},
{"data":{"name":"markers"},"transform":[{"filter":"datum.trace === 'S21'"}],"mark":{"type":"text","text":"1","dy":-25,"align":"center","baseline":"middle","fontSize":18,"color":"#10a0a0"},"encoding":{"x":{"field":"f","type":"quantitative","scale":{"domain":[8,12],"nice":false,"zero":false},"axis":{"title":null}},"y":{"field":"v","type":"quantitative","scale":{"domain":[-5.8,-0.8],"nice":false,"zero":false},"axis":{"title":null}}}},
{"data":{"values":[{}]},"mark":{"type":"point","shape":"M1,-1.4L-1,0L1,1.4Z","size":64,"filled":true,"color":"#10a0a0","opacity":1},"encoding":{"x":{"datum":12.019,"type":"quantitative","scale":{"domain":[8,12],"nice":false,"zero":false},"axis":{"title":null}},"y":{"datum":-2.8,"type":"quantitative","scale":{"domain":[-5.8,-0.8],"nice":false,"zero":false},"axis":{"title":null}}}}
]}
]
}
